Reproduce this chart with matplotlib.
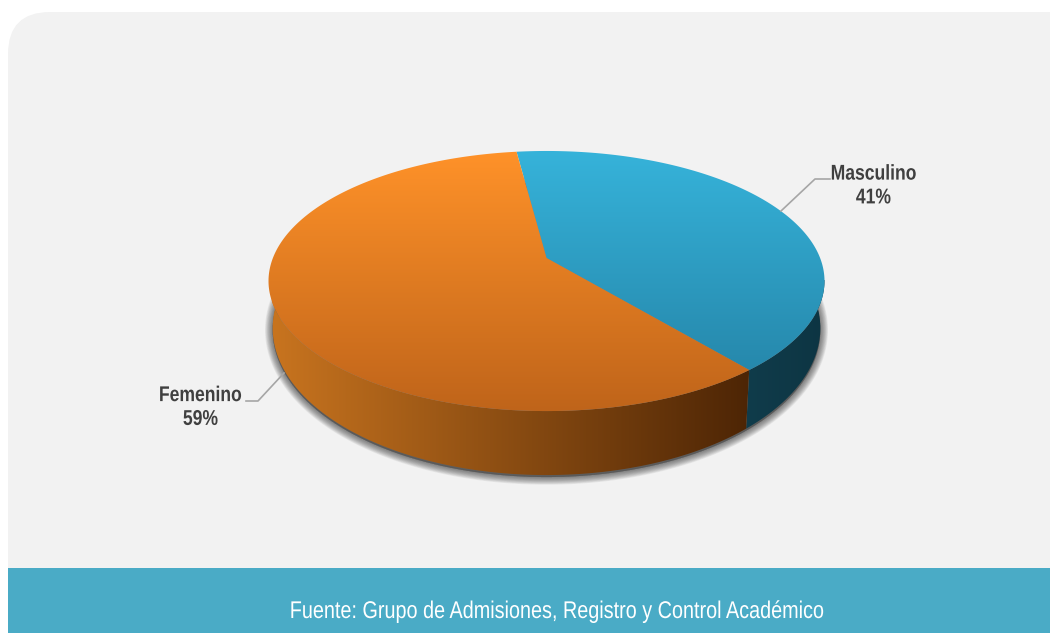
import numpy as np
import matplotlib
matplotlib.use("Agg")
import matplotlib.pyplot as plt
from matplotlib.colors import LinearSegmentedColormap as LSC
from matplotlib.patches import Polygon, FancyBboxPatch, Rectangle
from matplotlib.patheffects import AbstractPathEffect
from matplotlib.transforms import Affine2D

# data
categories = ["Masculino", "Femenino"]
shares = [41, 59]
source = "Fuente: Grupo de Admisiones, Registro y Control Académico"

top_colors = [("#36b3da", "#2380a3"), ("#ff9229", "#bf641a")]
side_colors = [("#103c4b", "#0d3543"), ("#c8741f", "#4d2505")]

plt.rcParams["font.family"] = ["Liberation Sans", "DejaVu Sans"]
fig = plt.figure(figsize=(10.5, 6.33), dpi=100, facecolor="white")
ax = fig.add_axes([0, 0, 1, 1])
ax.set_xlim(0, 1050)
ax.set_ylim(633, 0)
ax.axis("off")


class Narrow(AbstractPathEffect):
    """Draws a text narrower about a fixed horizontal pixel position."""

    def __init__(self, anchor, factor=0.82):
        super().__init__()
        self.anchor, self.factor = anchor, factor

    def draw_path(self, renderer, gc, tpath, affine, rgbFace=None):
        squeeze = Affine2D().translate(-self.anchor, 0).scale(self.factor, 1).translate(self.anchor, 0)
        renderer.draw_path(gc, tpath, affine + squeeze, rgbFace)


# panel and band
ax.add_patch(FancyBboxPatch((8, 12), 1200, 700, boxstyle="round,pad=0,rounding_size=42",
                            fc="#f2f2f2", ec="none", zorder=0))
ax.add_patch(Rectangle((8, 568), 1042, 65, fc="#4aabc6", ec="none", zorder=1))

# perspective projection of the pie disc
cx, apex_y = 546.5, 258.0
C, A, D = 0.177, -80.3, 273.6


def rim(deg):
    t = np.radians(deg)
    X, Y = np.cos(t), np.sin(t)
    w = 1 + C * Y
    return cx + D * X / w, (A * Y + apex_y) / w


def lower(x, y):
    return cx + (x - cx) * 0.985, y + 47 + (y - 281) / 130 * 17


def gradient(poly, c0, c1, extent, vertical, z):
    cmap = LSC.from_list("g", [c0, c1])
    g = np.linspace(0, 1, 256)
    g = g[:, None] if vertical else g[None, :]
    im = ax.imshow(g, cmap=cmap, extent=extent, aspect="auto", zorder=z,
                   interpolation="bilinear")
    im.set_clip_path(Polygon(poly, transform=ax.transData))


# shares to angles
start = 97.4
angles = [start]
for s in shares:
    angles.append(angles[-1] - 360 * s / sum(shares))

# shadow
xa, ya = rim(np.linspace(0, 360, 361))
xb, yb = lower(xa, ya)
sx, sy = xb, yb + 2
for w in np.linspace(11, 1, 11):
    ax.add_patch(Polygon(np.c_[sx, sy], closed=True, fc="#404040", ec="#404040",
                         lw=w, alpha=0.08, joinstyle="round", zorder=2))

# sides, then tops
for i in range(len(shares)):
    d = np.linspace(angles[i], angles[i + 1], 300)
    x, y = rim(d)
    bx, by = lower(x, y)
    side = np.r_[np.c_[x, y], np.c_[bx, by][::-1]]
    gradient(side, side_colors[i][0], side_colors[i][1],
             (272, 750, 480, 280) if i else (745, 825, 480, 280), False, 3)
for i in range(len(shares)):
    d = np.linspace(angles[i], angles[i + 1], 300)
    x, y = rim(d)
    top = np.r_[[[cx, apex_y]], np.c_[x, y]]
    gradient(top, top_colors[i][0], top_colors[i][1], (265, 830, 412, 150), True, 4)

# leader lines and labels
ax.plot([781, 815, 830], [211, 179, 179], color="#a6a6a6", lw=1.2, zorder=5)
ax.plot([284, 258, 246], [373, 401, 401], color="#a6a6a6", lw=1.2, zorder=5)
lab = dict(ha="center", va="center", color="#404040", fontweight="bold", fontsize=15.4,
           linespacing=1.32, zorder=6)
ax.text(873.5, 186, f"{categories[0]}\n{shares[0]}%", path_effects=[Narrow(873.5)], **lab)
ax.text(200.5, 407.5, f"{categories[1]}\n{shares[1]}%", path_effects=[Narrow(200.5)], **lab)

ax.text(556, 612, source, ha="center", va="center", color="white", fontsize=17.4, zorder=6,
        path_effects=[Narrow(556)])

ax.set_xlim(0, 1050)
ax.set_ylim(633, 0)
fig.savefig("out.png", dpi=100)
